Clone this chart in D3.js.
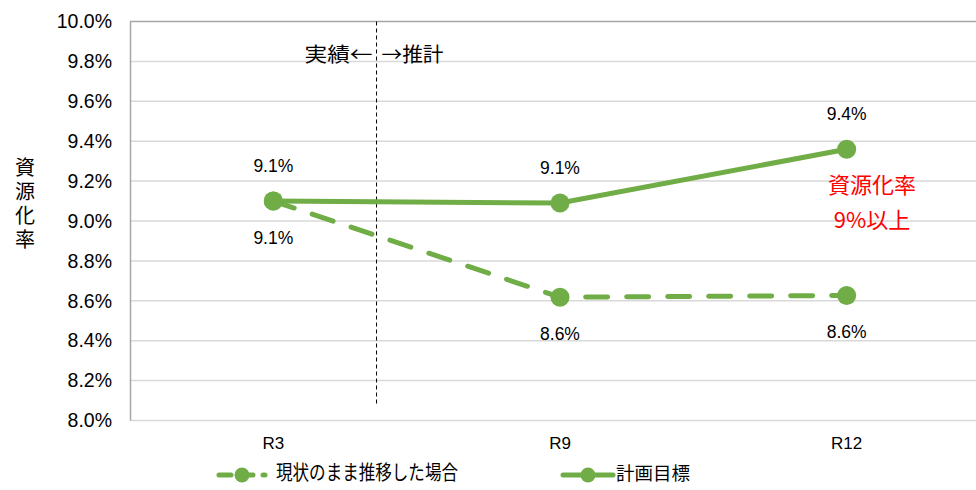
<!DOCTYPE html>
<html>
<head>
<meta charset="utf-8">
<script src="https://cdn.jsdelivr.net/npm/d3@7"></script>
<style>
  body { margin: 0; background: #fff; }
  svg { display: block; }
  text { font-family: "Liberation Sans", Arial, sans-serif; }
  .jp { font-family: "Noto Sans CJK JP", sans-serif; }
</style>
</head>
<body>
<div id="chart"></div>
<script>
// data
var categories = ["R3", "R9", "R12"];
var currentTrend = [9.10, 8.618, 8.627];   // 現状のまま推移した場合
var planTarget = [9.10, 9.09, 9.36];       // 計画目標
var yTicks = [8.0, 8.2, 8.4, 8.6, 8.8, 9.0, 9.2, 9.4, 9.6, 9.8, 10.0];
var seriesNames = ["現状のまま推移した場合", "計画目標"];

var width = 976, height = 490;
var green = "#70ad47";

var svg = d3.select("#chart")
  .append("svg")
  .attr("width", width)
  .attr("height", height);

// plot area runs past the right edge, like the original
var x = d3.scaleBand()
  .domain(categories)
  .range([130, 990]);

var y = d3.scaleLinear()
  .domain([8.0, 10.0])
  .range([420.5, 21.5]);

// gridlines
svg.append("g")
  .selectAll("line")
  .data(yTicks)
  .enter()
  .append("line")
  .attr("x1", 130)
  .attr("x2", width)
  .attr("y1", function(d) { return y(d); })
  .attr("y2", function(d) { return y(d); })
  .style("stroke", function(d) { return d == 10.0 ? "#a6a6a6" : "#d9d9d9"; })
  .style("stroke-width", 1.5);

// left axis line
svg.append("line")
  .attr("x1", 130.5).attr("x2", 130.5)
  .attr("y1", y(10.0)).attr("y2", y(8.0))
  .style("stroke", "#a6a6a6")
  .style("stroke-width", 1.5);

// y tick labels
var yAxis = svg.append("g")
  .attr("transform", "translate(130,0)")
  .call(d3.axisLeft(y).tickValues(yTicks).tickSize(0).tickPadding(18)
    .tickFormat(function(d) { return d.toFixed(1) + "%"; }));
yAxis.select(".domain").remove();
yAxis.selectAll("text")
  .style("font-family", "'Liberation Sans', Arial, sans-serif")
  .style("font-size", "19.5px")
  .style("fill", "#000");

// x tick labels
var xAxis = svg.append("g")
  .attr("transform", "translate(0," + 432 + ")")
  .call(d3.axisBottom(x).tickSize(0).tickPadding(5));
xAxis.select(".domain").remove();
xAxis.selectAll("text")
  .style("font-family", "'Liberation Sans', Arial, sans-serif")
  .style("font-size", "17px")
  .style("fill", "#000");

// y axis title, set vertically
svg.append("text")
  .attr("class", "jp")
  .attr("x", 25)
  .attr("y", 205)
  .attr("text-anchor", "middle")
  .style("writing-mode", "vertical-rl")
  .style("letter-spacing", "4px")
  .style("font-size", "20px")
  .text("資源化率");

// 実績 / 推計 divider
var divX = x("R3") + x.bandwidth() / 2 + 0.36 * x.step();
svg.append("line")
  .attr("x1", divX).attr("x2", divX)
  .attr("y1", y(10.0)).attr("y2", 405)
  .style("stroke", "#000")
  .style("stroke-width", 1)
  .style("stroke-dasharray", "4,3");

svg.append("text")
  .attr("class", "jp")
  .attr("x", divX - 4)
  .attr("y", 57)
  .attr("text-anchor", "end")
  .attr("dominant-baseline", "middle")
  .attr("textLength", 68)
  .attr("lengthAdjust", "spacingAndGlyphs")
  .style("font-size", "20px")
  .text("実績←");

svg.append("text")
  .attr("class", "jp")
  .attr("x", divX + 5)
  .attr("y", 57)
  .attr("text-anchor", "start")
  .attr("dominant-baseline", "middle")
  .attr("textLength", 62)
  .attr("lengthAdjust", "spacingAndGlyphs")
  .style("font-size", "20px")
  .text("→推計");

var cx = function(i) { return x(categories[i]) + x.bandwidth() / 2; };

var line = d3.line()
  .x(function(d, i) { return cx(i); })
  .y(function(d) { return y(d); });

// dashed series
svg.append("path")
  .datum(currentTrend)
  .attr("d", line)
  .style("fill", "none")
  .style("stroke", green)
  .style("stroke-width", 5)
  .style("stroke-dasharray", "22,19")
  .style("stroke-linecap", "round");

svg.append("g")
  .selectAll("circle")
  .data(currentTrend)
  .enter()
  .append("circle")
  .attr("cx", function(d, i) { return cx(i); })
  .attr("cy", function(d) { return y(d); })
  .attr("r", 9.5)
  .style("fill", green);

// solid series
svg.append("path")
  .datum(planTarget)
  .attr("d", line)
  .style("fill", "none")
  .style("stroke", green)
  .style("stroke-width", 5)
  .style("stroke-linecap", "round");

svg.append("g")
  .selectAll("circle")
  .data(planTarget)
  .enter()
  .append("circle")
  .attr("cx", function(d, i) { return cx(i); })
  .attr("cy", function(d) { return y(d); })
  .attr("r", 9.5)
  .style("fill", green);

// data labels
svg.append("g")
  .selectAll("text")
  .data(planTarget)
  .enter()
  .append("text")
  .attr("x", function(d, i) { return cx(i); })
  .attr("y", function(d) { return y(d) - 34; })
  .attr("text-anchor", "middle")
  .attr("dominant-baseline", "middle")
  .style("font-size", "17.5px")
  .text(function(d) { return d.toFixed(1) + "%"; });

svg.append("g")
  .selectAll("text")
  .data(currentTrend)
  .enter()
  .append("text")
  .attr("x", function(d, i) { return cx(i); })
  .attr("y", function(d) { return y(d) + 38; })
  .attr("text-anchor", "middle")
  .attr("dominant-baseline", "middle")
  .style("font-size", "17.5px")
  .text(function(d) { return d.toFixed(1) + "%"; });

// target annotation
svg.append("text")
  .attr("class", "jp")
  .attr("x", 872)
  .attr("y", 187)
  .attr("text-anchor", "middle")
  .attr("dominant-baseline", "middle")
  .style("font-size", "22px")
  .style("fill", "#ff0000")
  .text("資源化率");

svg.append("text")
  .attr("class", "jp")
  .attr("x", 872)
  .attr("y", 222)
  .attr("text-anchor", "middle")
  .attr("dominant-baseline", "middle")
  .style("font-size", "22px")
  .style("fill", "#ff0000")
  .text("9%以上");

// legend
var legendY = 475;
var lg1 = svg.append("g");
lg1.append("line")
  .attr("x1", 219).attr("x2", 265)
  .attr("y1", legendY).attr("y2", legendY)
  .style("stroke", green)
  .style("stroke-width", 5)
  .style("stroke-dasharray", "12,10")
  .style("stroke-linecap", "round");
lg1.append("circle")
  .attr("cx", 242).attr("cy", legendY).attr("r", 7.5)
  .style("fill", green);
lg1.append("text")
  .attr("class", "jp")
  .attr("x", 276).attr("y", legendY)
  .attr("dominant-baseline", "middle")
  .attr("textLength", 182)
  .attr("lengthAdjust", "spacingAndGlyphs")
  .style("font-size", "20px")
  .text(seriesNames[0]);

var lg2 = svg.append("g");
lg2.append("line")
  .attr("x1", 563).attr("x2", 613)
  .attr("y1", legendY).attr("y2", legendY)
  .style("stroke", green)
  .style("stroke-width", 5)
  .style("stroke-linecap", "round");
lg2.append("circle")
  .attr("cx", 588).attr("cy", legendY).attr("r", 7.5)
  .style("fill", green);
lg2.append("text")
  .attr("class", "jp")
  .attr("x", 616).attr("y", legendY)
  .attr("dominant-baseline", "middle")
  .style("font-size", "18.5px")
  .text(seriesNames[1]);
</script>
</body>
</html>
